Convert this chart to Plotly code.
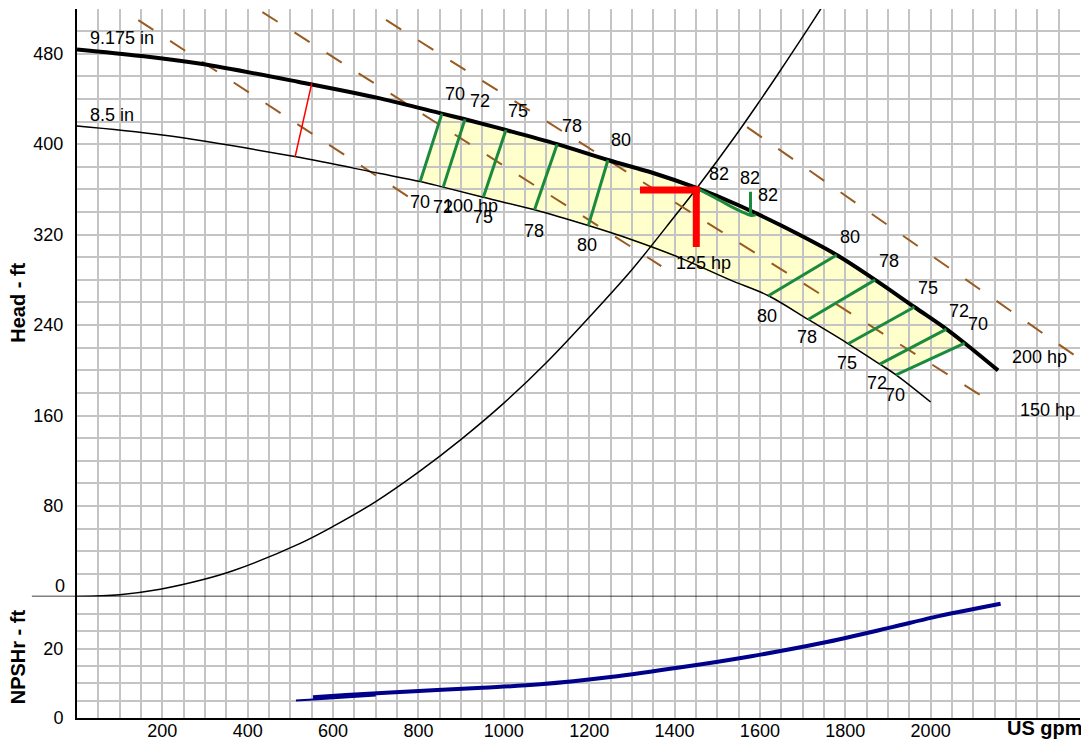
import plotly.graph_objects as go
from plotly.subplots import make_subplots

# ---------------- data ----------------
# impeller 9.175 in head curve
Q_MAX = [0, 150, 290, 520, 710, 855, 909, 1005, 1125, 1244, 1350, 1450, 1550, 1650, 1780, 1870, 1962, 2037, 2080, 2158]
H_MAX = [483.8, 478, 471, 455, 440.5, 427, 422, 412.5, 400, 386, 374.5, 361.5, 346, 328, 302, 280, 256, 236.5, 224, 200]
# impeller 8.5 in head curve
Q_MIN = [0, 200, 510, 710, 804, 858, 952, 1072, 1198, 1300, 1413, 1530, 1620, 1713, 1807, 1881, 1919, 2000]
H_MIN = [416, 408, 389, 374, 367, 362, 353, 342, 328, 315.5, 299.5, 280, 266, 245, 223.5, 205.5, 196, 172]

# system curve
Q_SYS = [0, 100, 195, 296, 367, 523, 600, 700, 800, 900, 1000, 1100, 1200, 1300, 1400, 1452, 1542, 1592, 1639, 1702, 1745, 1770]
H_SYS = [0, 1.7, 6.5, 15, 23, 47, 62, 84, 110, 139, 171, 207, 247, 289, 336, 361, 407, 434, 460, 496, 521, 537]

# iso-efficiency lines (left group / right group)
EFF_LEFT = ["70", "72", "75", "78", "80"]
EFF_L_BOT_Q = [804, 858, 952, 1072, 1198]
EFF_L_BOT_H = [367, 362, 353, 342, 328]
EFF_L_TOP_Q = [855, 909, 1005, 1125, 1244]
EFF_L_TOP_H = [427, 422, 412.5, 400, 386]
EFF_RIGHT = ["80", "78", "75", "72", "70"]
EFF_R_BOT_Q = [1620, 1713, 1807, 1881, 1919]
EFF_R_BOT_H = [266, 245, 223.5, 205.5, 196]
EFF_R_TOP_Q = [1780, 1870, 1962, 2037, 2080]
EFF_R_TOP_H = [302, 280, 256, 236.5, 224]
# 82 % island and its leader
EFF82_Q = [1455, 1480, 1510, 1540, 1565, 1580, 1590]
EFF82_H = [360.5, 355.5, 349.5, 343.5, 339, 337, 337.5]
EFF82_LEAD_Q = [1578, 1578]
EFF82_LEAD_H = [338, 358]

# efficiency label positions
EFF_L_TOP_LBL_Q = [886, 944, 1034, 1159, 1274]
EFF_L_TOP_LBL_H = [444.3, 438.4, 429.5, 416.3, 403.6]
EFF_L_BOT_LBL_Q = [804, 857, 952, 1071, 1196]
EFF_L_BOT_LBL_H = [349, 344.7, 335.8, 323.5, 310.8]
EFF_R_TOP_LBL_Q = [1811, 1903, 1994, 2067, 2110]
EFF_R_TOP_LBL_H = [318.1, 296.9, 272.5, 252.7, 241]
EFF_R_BOT_LBL_Q = [1617, 1711, 1805, 1875, 1916]
EFF_R_BOT_LBL_H = [248, 229.2, 206.7, 188.5, 178.2]
EFF82_LBL_Q = [1505, 1577, 1620]
EFF82_LBL_H = [373.6, 369.8, 355]

# power lines
POWER_LABELS = ["100 hp", "125 hp", "150 hp", "200 hp"]
POWER_Q = [[143.6, 792], [434.4, 1369], [724, 2146], [1570, 2350]]
POWER_H = [[509.7, 349.7], [516.8, 292.2], [509.8, 171.1], [415.1, 209.9]]
POWER_LBL_Q = [922.7, 1469, 2273, 2254]
POWER_LBL_H = [345.6, 294.6, 164.9, 212]

# operating point and minimum flow
OP_Q = 1451
OP_H = 359.4
OP_HBAR_Q = [1319, 1459]
OP_VBAR_H = [362.6, 309]
MINFLOW_Q = [550, 511]
MINFLOW_H = [453.8, 388.9]

# NPSHr
NPSH_THIN_Q = [513, 553, 600, 700]
NPSH_THIN_N = [5.05, 5.35, 5.7, 6.5]
NPSH_Q = [553, 630, 790, 950, 1085, 1250, 1415, 1580, 1745, 1910, 2006, 2164]
NPSH_N = [6.0, 6.6, 7.7, 8.7, 9.7, 11.8, 14.6, 17.8, 21.6, 26.2, 29.0, 32.9]

# impeller labels
IMP_LABELS = ["9.175 in", "8.5 in"]
IMP_LBL_H = [493.8, 425.7]

# axes
X_RANGE = [0, 2350]
X_GRID = list(range(0, 2351, 50))
X_LABELED = [200, 400, 600, 800, 1000, 1200, 1400, 1600, 1800, 2000]
H_RANGE = [0, 519.5]
H_GRID = list(range(0, 521, 20))
H_LABELED = [80, 160, 240, 320, 400, 480]
N_RANGE = [0, 35]
N_GRID = list(range(0, 36, 5))
N_LABELED = [0, 20]

# ---------------- styling ----------------
FONT = "Arial, Liberation Sans, sans-serif"
GRID = "#c4c4c4"
GREEN = "#1b8a3e"
BROWN = "#9a5b22"
NAVY = "#00008b"
RED = "#ff0000"
FS = 18

fig = make_subplots(rows=2, cols=1, shared_xaxes=True, vertical_spacing=0)

# yellow preferred region (built from the curve arrays)
top = [(q, h) for q, h in zip(Q_MAX, H_MAX) if EFF_L_TOP_Q[0] <= q <= EFF_R_TOP_Q[-1]]
bot_r = [(q, h) for q, h in zip(Q_MIN, H_MIN) if EFF_R_BOT_Q[0] <= q <= EFF_R_BOT_Q[-1]]
bot_l = [(q, h) for q, h in zip(Q_MIN, H_MIN) if EFF_L_BOT_Q[0] <= q <= EFF_L_BOT_Q[-1]]
poly = top + bot_r[::-1] + bot_l[::-1]
path = "M " + " L ".join(f"{q},{h}" for q, h in poly) + " Z"
fig.add_shape(type="path", path=path, xref="x", yref="y", layer="below",
              fillcolor="#ffffcc", line=dict(width=0))

# system curve
fig.add_trace(go.Scatter(x=Q_SYS, y=H_SYS, mode="lines", line=dict(color="black", width=1.5, shape="spline"),
                         hoverinfo="skip", showlegend=False), row=1, col=1)
# power lines
for pq, ph in zip(POWER_Q, POWER_H):
    fig.add_trace(go.Scatter(x=pq, y=ph, mode="lines", line=dict(color=BROWN, width=2, dash="18px,20px"),
                             hoverinfo="skip", showlegend=False), row=1, col=1)
# head curves
fig.add_trace(go.Scatter(x=Q_MIN, y=H_MIN, mode="lines", line=dict(color="black", width=1.5, shape="spline"),
                         hoverinfo="skip", showlegend=False), row=1, col=1)
fig.add_trace(go.Scatter(x=Q_MAX, y=H_MAX, mode="lines", line=dict(color="black", width=4, shape="spline"),
                         hoverinfo="skip", showlegend=False), row=1, col=1)
# iso-efficiency lines
for bq, bh, tq, th in list(zip(EFF_L_BOT_Q, EFF_L_BOT_H, EFF_L_TOP_Q, EFF_L_TOP_H)) + \
        list(zip(EFF_R_BOT_Q, EFF_R_BOT_H, EFF_R_TOP_Q, EFF_R_TOP_H)):
    fig.add_trace(go.Scatter(x=[bq, tq], y=[bh, th], mode="lines", line=dict(color=GREEN, width=3),
                             hoverinfo="skip", showlegend=False), row=1, col=1)
fig.add_trace(go.Scatter(x=EFF82_Q, y=EFF82_H, mode="lines", line=dict(color=GREEN, width=3, shape="spline"),
                         hoverinfo="skip", showlegend=False), row=1, col=1)
fig.add_trace(go.Scatter(x=EFF82_LEAD_Q, y=EFF82_LEAD_H, mode="lines", line=dict(color=GREEN, width=3),
                         hoverinfo="skip", showlegend=False), row=1, col=1)
# min flow line
fig.add_trace(go.Scatter(x=MINFLOW_Q, y=MINFLOW_H, mode="lines", line=dict(color=RED, width=1.5),
                         hoverinfo="skip", showlegend=False), row=1, col=1)
# operating point
fig.add_trace(go.Scatter(x=OP_HBAR_Q, y=[OP_H, OP_H], mode="lines", line=dict(color=RED, width=7),
                         hoverinfo="skip", showlegend=False), row=1, col=1)
fig.add_trace(go.Scatter(x=[OP_Q, OP_Q], y=OP_VBAR_H, mode="lines", line=dict(color=RED, width=7),
                         hoverinfo="skip", showlegend=False), row=1, col=1)
# NPSHr
fig.add_trace(go.Scatter(x=NPSH_THIN_Q, y=NPSH_THIN_N, mode="lines", line=dict(color=NAVY, width=2, shape="spline"),
                         hoverinfo="skip", showlegend=False), row=2, col=1)
fig.add_trace(go.Scatter(x=NPSH_Q, y=NPSH_N, mode="lines", line=dict(color=NAVY, width=4, shape="spline"),
                         hoverinfo="skip", showlegend=False), row=2, col=1)

# ---------------- labels ----------------
ann = []
def lbl(q, h, t, **kw):
    d = dict(x=q, y=h, xref="x", yref="y", text=t, showarrow=False,
             font=dict(size=FS, color="black", family=FONT))
    d.update(kw)
    ann.append(d)

for q, h, t in zip(EFF_L_TOP_LBL_Q, EFF_L_TOP_LBL_H, EFF_LEFT):
    lbl(q, h, t)
for q, h, t in zip(EFF_L_BOT_LBL_Q, EFF_L_BOT_LBL_H, EFF_LEFT):
    lbl(q, h, t)
for q, h, t in zip(EFF_R_TOP_LBL_Q, EFF_R_TOP_LBL_H, EFF_RIGHT):
    lbl(q, h, t)
for q, h, t in zip(EFF_R_BOT_LBL_Q, EFF_R_BOT_LBL_H, EFF_RIGHT):
    lbl(q, h, t)
for q, h in zip(EFF82_LBL_Q, EFF82_LBL_H):
    lbl(q, h, "82")
for q, h, t in zip(POWER_LBL_Q, POWER_LBL_H, POWER_LABELS):
    lbl(q, h, t)
for h, t in zip(IMP_LBL_H, IMP_LABELS):
    lbl(26, h, t, xanchor="left")

# head "0" tick label (drawn slightly above the panel divider)
ann.append(dict(x=-0.0103, xref="paper", y=0, yref="y", yshift=11, text="0", showarrow=False,
                xanchor="right", font=dict(size=FS, color="black", family=FONT)))
# axis titles
ann.append(dict(x=-0.0588, xref="paper", y=(0.1713 + 1) / 2, yref="paper", text="<b>Head - ft</b>",
                textangle=-90, showarrow=False, xanchor="center", yanchor="middle",
                font=dict(size=20, color="black", family=FONT)))
ann.append(dict(x=-0.0588, xref="paper", y=0.1713 / 2, yref="paper", text="<b>NPSHr - ft</b>",
                textangle=-90, showarrow=False, xanchor="center", yanchor="middle",
                font=dict(size=20, color="black", family=FONT)))
ann.append(dict(x=0.965, xref="paper", y=-0.0141, yref="paper", text="<b>US gpm</b>", showarrow=False,
                xanchor="center", yanchor="middle", font=dict(size=20, color="black", family=FONT)))

# panel divider line at head = 0
fig.add_shape(type="line", xref="paper", yref="y", x0=-0.045, x1=1, y0=0, y1=0,
              line=dict(color="black", width=1.5))

axis_common = dict(showgrid=True, gridcolor=GRID, gridwidth=1.5, zeroline=False, ticks="",
                   automargin=False, tickfont=dict(size=FS, color="black", family=FONT))

# the page body adds an 8 px offset, so the figure is sized to sit inside the window
fig.update_layout(
    width=1081, height=732,
    margin=dict(l=69, r=9, t=1, b=22, autoexpand=False),
    paper_bgcolor="white", plot_bgcolor="white",
    showlegend=False,
    annotations=ann,
    xaxis=dict(range=X_RANGE, tickmode="array", tickvals=X_GRID, showticklabels=False, **axis_common),
    xaxis2=dict(range=X_RANGE, tickmode="array", tickvals=X_GRID,
                ticktext=[str(v) if v in X_LABELED else "" for v in X_GRID],
                showline=True, linecolor="black", linewidth=2, ticklabelstandoff=-5, **axis_common),
    yaxis=dict(range=H_RANGE, domain=[0.1713, 1], tickmode="array", tickvals=H_GRID,
               ticktext=[str(v) if v in H_LABELED else "" for v in H_GRID],
               showline=True, linecolor="black", linewidth=2, ticklabelstandoff=8, **axis_common),
    yaxis2=dict(range=N_RANGE, domain=[0, 0.1713], tickmode="array", tickvals=N_GRID,
                ticktext=[str(v) if v in N_LABELED else "" for v in N_GRID],
                showline=True, linecolor="black", linewidth=2, ticklabelstandoff=8, **axis_common),
)

fig.write_html("out.html")
